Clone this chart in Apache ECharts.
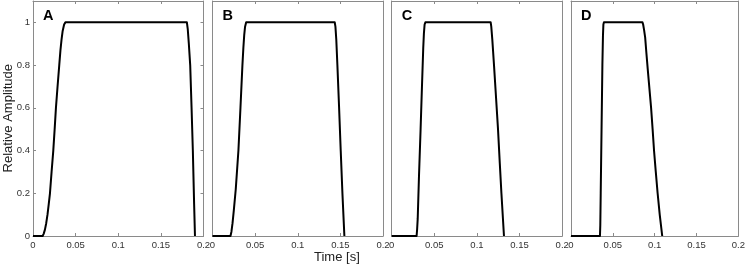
<!DOCTYPE html>
<html><head><meta charset="utf-8">
<script src="https://cdn.jsdelivr.net/npm/echarts@6/dist/echarts.min.js"></script>
<style>html,body{margin:0;padding:0;background:#fff}#c{width:748px;height:265px}</style>
</head><body><div id="c"></div>
<script>
const panelLetters = ['A','B','C','D'];
const xTicks = [0, 0.05, 0.1, 0.15, 0.2];
const yTicks = [0, 0.2, 0.4, 0.6, 0.8, 1];
const seriesA = [[0,0],[0.0113,0],[0.0125,0.01],[0.014,0.03],[0.0155,0.06],[0.017,0.1],[0.0185,0.15],[0.0199,0.2],[0.0218,0.3],[0.0238,0.4],[0.0254,0.5],[0.0269,0.6],[0.0288,0.7],[0.0308,0.8],[0.0322,0.87],[0.0335,0.92],[0.0348,0.96],[0.0365,0.99],[0.038,1],[0.1805,1],[0.1815,0.97],[0.1828,0.9],[0.1844,0.8],[0.186,0.6],[0.1875,0.4],[0.189,0.15],[0.190,0]];
const seriesB = [[0,0],[0.0211,0],[0.0222,0.02],[0.0235,0.06],[0.025,0.12],[0.0273,0.22],[0.0304,0.4],[0.0328,0.6],[0.0351,0.8],[0.0362,0.88],[0.0372,0.94],[0.0382,0.98],[0.0395,1],[0.1434,1],[0.1442,0.98],[0.1452,0.92],[0.1465,0.8],[0.1485,0.6],[0.1504,0.4],[0.1524,0.2],[0.1547,0]];
const seriesC = [[0,0],[0.0292,0],[0.0298,0.03],[0.0305,0.08],[0.032,0.28],[0.0339,0.5],[0.0355,0.7],[0.037,0.88],[0.0378,0.95],[0.0386,0.99],[0.0395,1],[0.1161,1],[0.1168,0.98],[0.118,0.92],[0.120,0.8],[0.1222,0.66],[0.1247,0.5],[0.1268,0.34],[0.1287,0.2],[0.1317,0]];
const seriesD = [[0,0],[0.0346,0],[0.035,0.05],[0.0355,0.2],[0.0365,0.5],[0.0375,0.8],[0.0382,0.94],[0.0387,0.99],[0.0393,1],[0.0854,1],[0.0862,0.99],[0.0873,0.965],[0.0886,0.93],[0.09,0.86],[0.0917,0.78],[0.0937,0.69],[0.0957,0.6],[0.0975,0.5],[0.0992,0.4],[0.1013,0.3],[0.1035,0.2],[0.106,0.1],[0.109,0]];
const allSeries = [seriesA, seriesB, seriesC, seriesD];

const FONT = '"Liberation Sans", Arial, Helvetica, sans-serif';
const gridLefts = [33, 212.5, 391.7, 571];
const gridW = 170.5;
const axisColor = '#8a8a8a';
const labelColor = '#333';

const grids = [], xAxes = [], yAxes = [], series = [], titles = [];
gridLefts.forEach((l, i) => {
  grids.push({left: l, top: 1, width: gridW, height: 235, show: false});
  const xBase = {
    gridIndex: i, type: 'value', min: xTicks[0], max: xTicks[xTicks.length-1], interval: 0.05,
    axisLine: {show: true, onZero: false, lineStyle: {color: axisColor, width: 1}},
    axisTick: {show: true, inside: true, length: 3, lineStyle: {color: axisColor}},
    splitLine: {show: false}
  };
  xAxes.push(Object.assign({}, xBase, {position: 'bottom',
    axisLabel: {show: true, margin: 4, color: labelColor, fontSize: 9.5, fontFamily: FONT, hideOverlap: false,
      formatter: v => String(+v.toFixed(2))}}));
  xAxes.push(Object.assign({}, xBase, {position: 'top', axisLabel: {show: false}}));
  const yBase = {
    gridIndex: i, type: 'value', min: 0, max: 1.1, interval: 0.2,
    axisLine: {show: true, onZero: false, lineStyle: {color: axisColor, width: 1}},
    axisTick: {show: i === 0, inside: true, length: 3, lineStyle: {color: axisColor},
      customValues: yTicks},
    splitLine: {show: false}
  };
  yAxes.push(Object.assign({}, yBase, {position: 'left',
    axisLabel: {show: i === 0, margin: 3, color: labelColor, fontSize: 9.5, fontFamily: FONT,
      customValues: yTicks, formatter: v => String(+v.toFixed(1))}}));
  yAxes.push(Object.assign({}, yBase, {position: 'right', axisLabel: {show: false}}));
  series.push({type: 'line', xAxisIndex: 2*i, yAxisIndex: 2*i, data: allSeries[i],
    showSymbol: false, smooth: false, lineStyle: {color: '#000', width: 2, join: 'round'}, animation: false});
  titles.push({text: panelLetters[i], left: l + 5, top: 3,
    textStyle: {fontSize: 14.5, fontWeight: 'bold', color: '#000', fontFamily: FONT}});
});

const chart = echarts.init(document.getElementById('c'), null, {renderer: 'canvas'});
chart.setOption({
  animation: false,
  title: titles,
  grid: grids, xAxis: xAxes, yAxis: yAxes, series: series,
  graphic: [
    {type: 'text', left: 2, top: 64, rotation: Math.PI/2,
      style: {text: 'Relative Amplitude', fontSize: 13, fill: '#222', fontFamily: FONT}},
    {type: 'text', left: 314, top: 251,
      style: {text: 'Time [s]', fontSize: 13, fill: '#222', fontFamily: FONT}}
  ]
});
</script></body></html>
